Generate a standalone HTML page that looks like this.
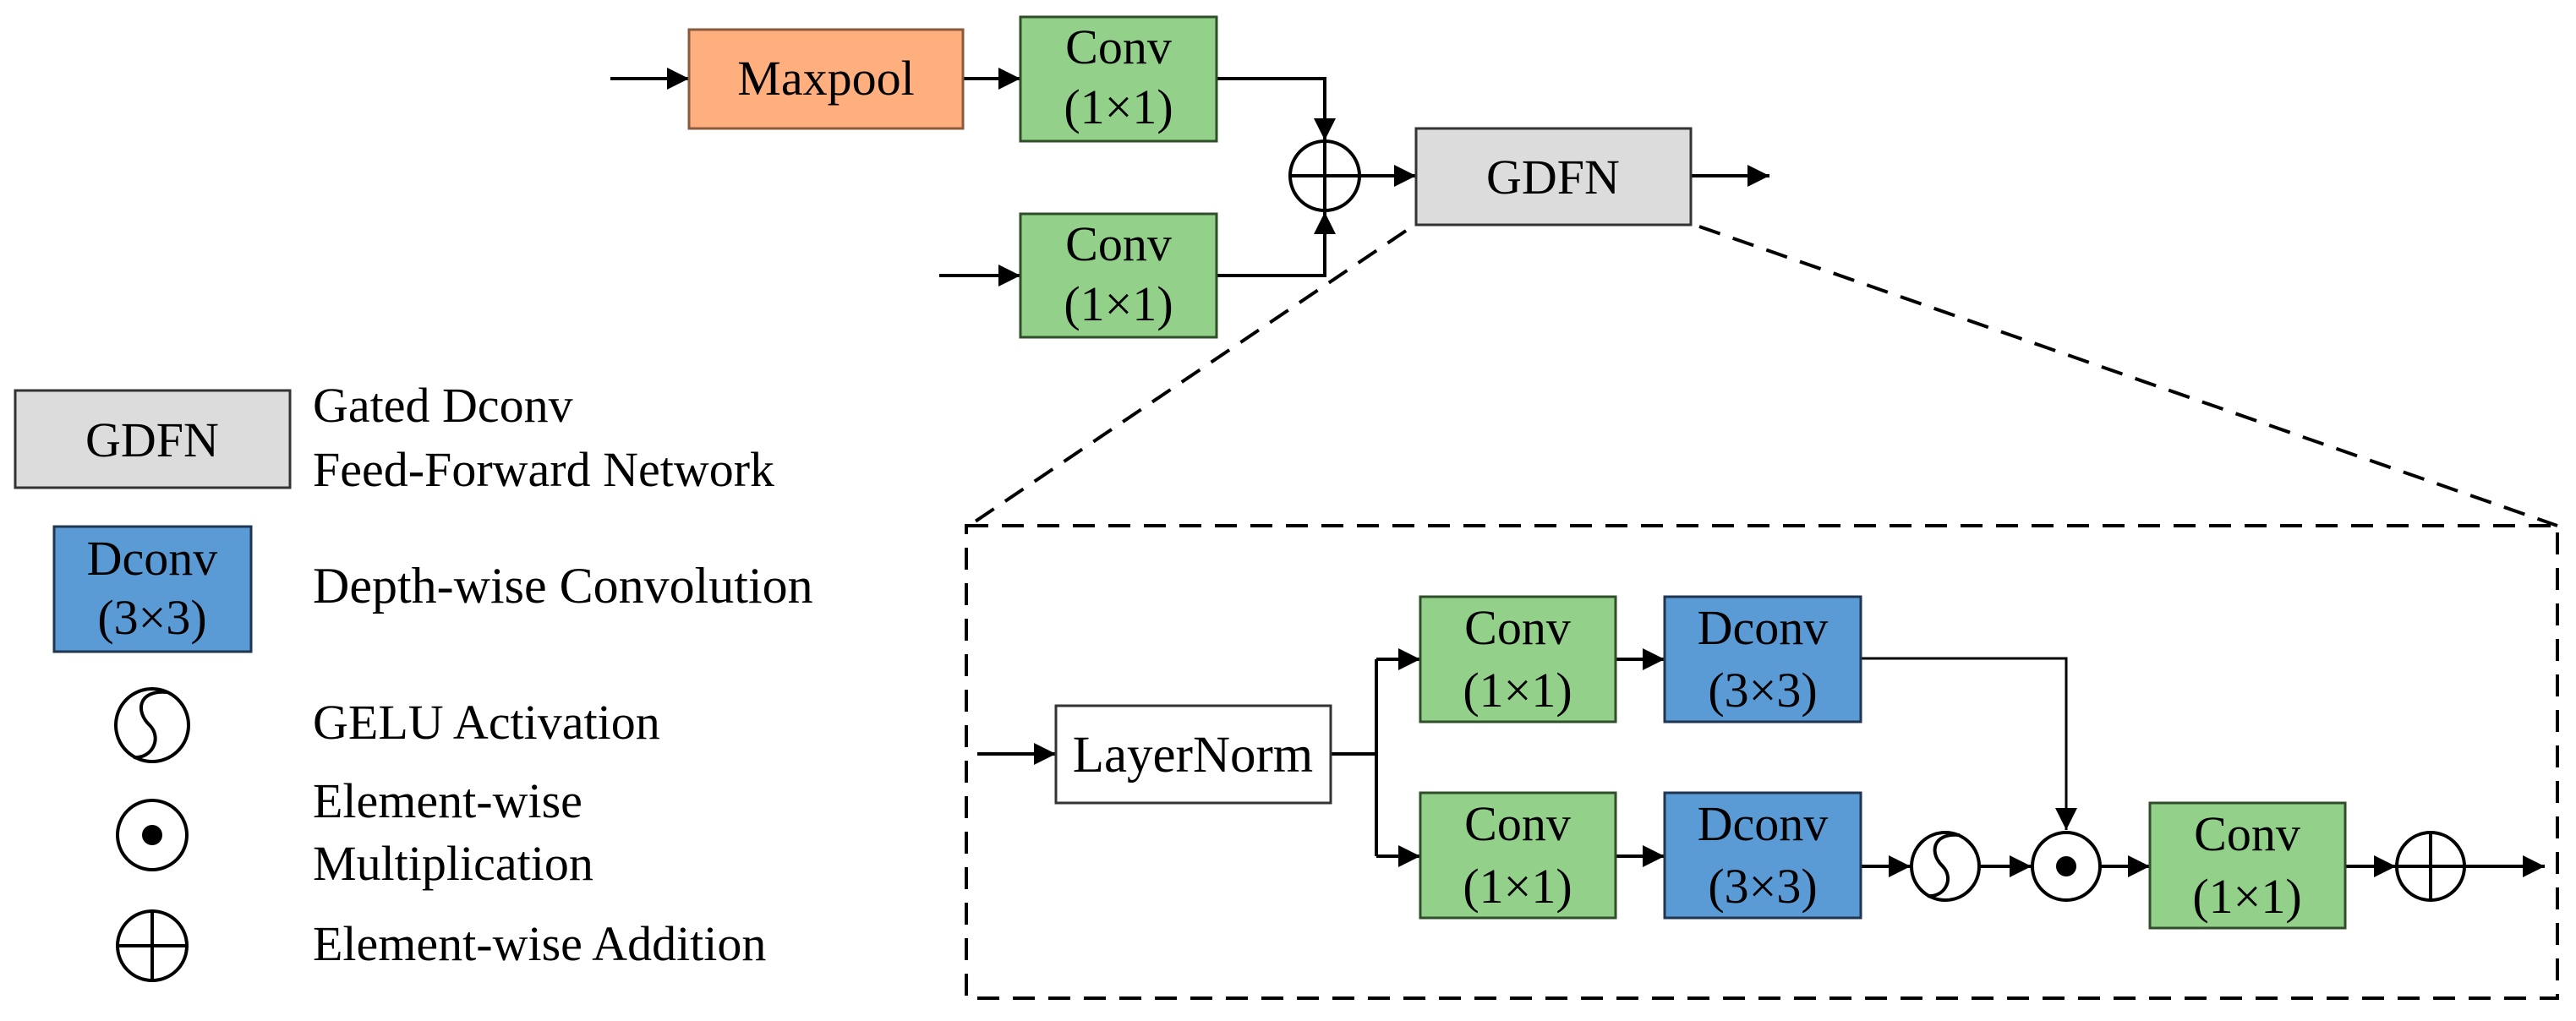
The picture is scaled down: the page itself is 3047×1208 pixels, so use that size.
<!DOCTYPE html>
<html><head><meta charset="utf-8"><style>html,body{margin:0;padding:0;background:#fff}svg{display:block}svg text{font-family:"Liberation Serif","Times New Roman",serif}</style></head>
<body>
<svg width="3047" height="1208" viewBox="0 0 3047 1208" xmlns="http://www.w3.org/2000/svg" font-family="Liberation Serif, serif" font-size="58" text-anchor="middle">
<defs>
<marker id="a" markerUnits="userSpaceOnUse" markerWidth="28" markerHeight="28" refX="26" refY="13" orient="auto"><path d="M0,0 L26,13 L0,26 z" fill="#000"/></marker>
</defs>
<g stroke="#000" stroke-width="4" fill="none">
<line x1="722" y1="93" x2="815" y2="93" marker-end="url(#a)"/>
<line x1="1139" y1="93" x2="1207" y2="93" marker-end="url(#a)"/>
<polyline points="1439,93 1567,93 1567,166" marker-end="url(#a)"/>
<line x1="1111" y1="326" x2="1207" y2="326" marker-end="url(#a)"/>
<polyline points="1439,326 1567,326 1567,251" marker-end="url(#a)"/>
<line x1="1609" y1="208" x2="1675" y2="208" marker-end="url(#a)"/>
<line x1="2000" y1="208" x2="2093" y2="208" marker-end="url(#a)"/>
<line x1="1156" y1="892" x2="1249" y2="892" marker-end="url(#a)"/>
<polyline points="1574,892 1628,892"/>
<polyline points="1628,780 1628,1013" />
<line x1="1628" y1="780" x2="1680" y2="780" marker-end="url(#a)"/>
<line x1="1628" y1="1013" x2="1680" y2="1013" marker-end="url(#a)"/>
<line x1="1911" y1="780" x2="1969" y2="780" marker-end="url(#a)"/>
<line x1="1911" y1="1013" x2="1969" y2="1013" marker-end="url(#a)"/>
<polyline points="2201,779 2444,779 2444,982" stroke-width="3" marker-end="url(#a)"/>
<line x1="2201" y1="1025" x2="2260" y2="1025" marker-end="url(#a)"/>
<line x1="2342" y1="1025" x2="2403" y2="1025" marker-end="url(#a)"/>
<line x1="2485" y1="1025" x2="2543" y2="1025" marker-end="url(#a)"/>
<line x1="2774" y1="1025" x2="2834" y2="1025" marker-end="url(#a)"/>
<line x1="2916" y1="1025" x2="3010" y2="1025" marker-end="url(#a)"/>
</g>
<g stroke="#000" stroke-width="4" fill="none" stroke-dasharray="26,16">
<line x1="1663" y1="273" x2="1146" y2="622"/>
<line x1="2010" y1="268" x2="3025" y2="622"/>
<rect x="1143" y="622" width="1882" height="559"/>
</g>
<g stroke-width="3">
<rect x="815" y="35" width="324" height="117" fill="#FFAF7E" stroke="#8a5a3c"/>
<rect x="1207" y="20" width="232" height="147" fill="#93D08A" stroke="#2f4f2a"/>
<rect x="1207" y="253" width="232" height="146" fill="#93D08A" stroke="#2f4f2a"/>
<rect x="1675" y="152" width="325" height="114" fill="#DCDCDC" stroke="#333"/>
<rect x="1249" y="835" width="325" height="115" fill="#fff" stroke="#333"/>
<rect x="1680" y="706" width="231" height="148" fill="#93D08A" stroke="#2f4f2a"/>
<rect x="1969" y="706" width="232" height="148" fill="#5B9BD5" stroke="#1f3550"/>
<rect x="1680" y="938" width="231" height="148" fill="#93D08A" stroke="#2f4f2a"/>
<rect x="1969" y="938" width="232" height="148" fill="#5B9BD5" stroke="#1f3550"/>
<rect x="2543" y="950" width="231" height="148" fill="#93D08A" stroke="#2f4f2a"/>
<rect x="18" y="462" width="325" height="115" fill="#DCDCDC" stroke="#333"/>
<rect x="64" y="623" width="233" height="148" fill="#5B9BD5" stroke="#1f3550"/>
</g>
<g stroke="#000" stroke-width="4" fill="#fff">
<circle cx="1567" cy="208" r="41"/>
<path d="M1526,208 H1608 M1567,167 V249"/>
<circle cx="2301" cy="1025" r="40"/>
<path d="M2318,988 C2285,985 2282,1010 2298,1025 C2312,1040 2300,1062 2280,1060" fill="none"/>
<circle cx="2444" cy="1025" r="40"/>
<circle cx="2875" cy="1025" r="40"/>
<path d="M2835,1025 H2915 M2875,985 V1065"/>
<circle cx="180" cy="858" r="43"/>
<path d="M198,819 C163,816 160,842 177,858 C192,873 180,898 158,896" fill="none"/>
<circle cx="180" cy="988" r="41"/>
<circle cx="180" cy="1119" r="41"/>
<path d="M139,1119 H221 M180,1078 V1160"/>
</g>
<circle cx="2444" cy="1025" r="12" fill="#000"/>
<circle cx="180" cy="988" r="12" fill="#000"/>
<g fill="#000">
<text x="977" y="112">Maxpool</text>
<text x="1323" y="75">Conv</text><text x="1323" y="146">(1×1)</text>
<text x="1323" y="308">Conv</text><text x="1323" y="379">(1×1)</text>
<text x="1837" y="229">GDFN</text>
<text x="1411" y="913" font-size="61">LayerNorm</text>
<text x="1795" y="762">Conv</text><text x="1795" y="836">(1×1)</text>
<text x="2085" y="762">Dconv</text><text x="2085" y="836">(3×3)</text>
<text x="1795" y="994">Conv</text><text x="1795" y="1068">(1×1)</text>
<text x="2085" y="994">Dconv</text><text x="2085" y="1068">(3×3)</text>
<text x="2658" y="1006">Conv</text><text x="2658" y="1080">(1×1)</text>
<text x="180" y="540">GDFN</text>
<text x="180" y="680">Dconv</text><text x="180" y="750">(3×3)</text>
<g text-anchor="start">
<text x="370" y="499">Gated Dconv</text>
<text x="370" y="575">Feed-Forward Network</text>
<text x="370" y="713" font-size="60">Depth-wise Convolution</text>
<text x="370" y="874">GELU Activation</text>
<text x="370" y="967">Element-wise</text>
<text x="370" y="1041">Multiplication</text>
<text x="370" y="1136">Element-wise Addition</text>
</g>
</g>
</svg>
</body></html>
